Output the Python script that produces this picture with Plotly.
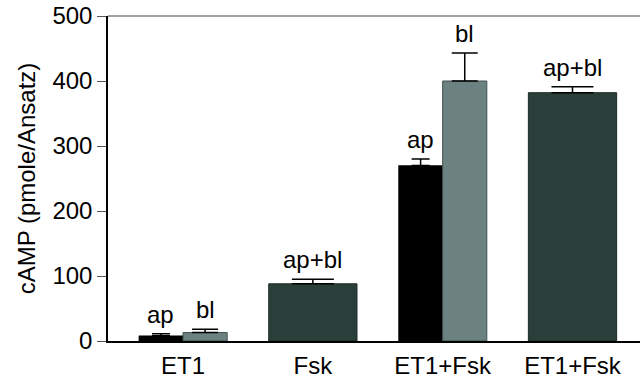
import plotly.graph_objects as go

categories = ["ET1", "Fsk", "ET1+Fsk", "ET1+Fsk"]
cat_pos = [0, 1, 2, 3]

ap_pos = [0, 2]
ap_vals = [8, 270]
ap_err = [3, 10]
ap_labels = ["ap", "ap"]

bl_pos = [0, 2]
bl_vals = [13, 400]
bl_err = [5, 43]
bl_labels = ["bl", "bl"]

comb_pos = [1, 3]
comb_vals = [88, 382]
comb_err = [7, 9]
comb_labels = ["ap+bl", "ap+bl"]

FONT = "Liberation Sans, Arial, sans-serif"
FS = 24
BW = 0.34

fig = go.Figure()
fig.add_trace(go.Bar(
    x=ap_pos, y=ap_vals, width=BW, offset=-BW,
    marker=dict(color="#000000", line=dict(color="#000000", width=0.5)),
    error_y=dict(type="data", array=ap_err, arrayminus=[0, 0], color="#000000", thickness=1.5, width=9),
    showlegend=False))
fig.add_trace(go.Bar(
    x=bl_pos, y=bl_vals, width=BW, offset=0,
    marker=dict(color="#6b8281", line=dict(color="#3f4f4f", width=1)),
    error_y=dict(type="data", array=bl_err, arrayminus=[0, 0], color="#000000", thickness=1.5, width=13),
    showlegend=False))
fig.add_trace(go.Bar(
    x=comb_pos, y=comb_vals, width=2 * BW, offset=-BW,
    marker=dict(color="#2a3f3a", line=dict(color="#1c2a27", width=1)),
    error_y=dict(type="data", array=comb_err, arrayminus=[0, 0], color="#000000", thickness=1.5, width=21),
    showlegend=False))

annotations = []
for pos, vals, errs, labs, dx in [
    (ap_pos, ap_vals, ap_err, ap_labels, -BW / 2),
    (bl_pos, bl_vals, bl_err, bl_labels, BW / 2),
    (comb_pos, comb_vals, comb_err, comb_labels, 0),
]:
    for p, v, e, t in zip(pos, vals, errs, labs):
        annotations.append(dict(
            x=p + dx, y=v + e, text=t, showarrow=False, xref="x", yref="y",
            yanchor="bottom", xanchor="center", yshift=4,
            font=dict(family=FONT, size=FS, color="#000000")))

fig.update_layout(
    width=640, height=378,
    margin=dict(l=108, r=0, t=16, b=37, autoexpand=False),
    paper_bgcolor="white", plot_bgcolor="white",
    barmode="overlay",
    font=dict(family=FONT, size=FS, color="#000000"),
    annotations=annotations,
    shapes=[dict(type="line", xref="paper", yref="paper", x0=0, x1=1, y0=1, y1=1,
                 line=dict(color="#808080", width=1.5))],
    xaxis=dict(
        range=[-0.578, 3.52], tickmode="array", tickvals=cat_pos, ticktext=categories,
        showgrid=False, zeroline=False, showline=True, linecolor="#000000", linewidth=1.5,
        ticks="", automargin=False,
        tickfont=dict(family=FONT, size=FS, color="#000000"), ticklabelstandoff=2),
    yaxis=dict(
        range=[0, 500], tickvals=[0, 100, 200, 300, 400, 500], automargin=False,
        showgrid=False, zeroline=False, showline=True, linecolor="#000000", linewidth=1.5,
        ticks="outside", ticklen=9, tickcolor="#555555", tickwidth=1,
        tickfont=dict(family=FONT, size=FS, color="#000000"),
        title=dict(text="cAMP (pmole/Ansatz)", font=dict(family=FONT, size=FS, color="#000000"), standoff=10)),
)

fig.write_html("out.html", config={"displayModeBar": False},
               post_script="document.body.style.margin='0';document.body.style.overflow='hidden';")
